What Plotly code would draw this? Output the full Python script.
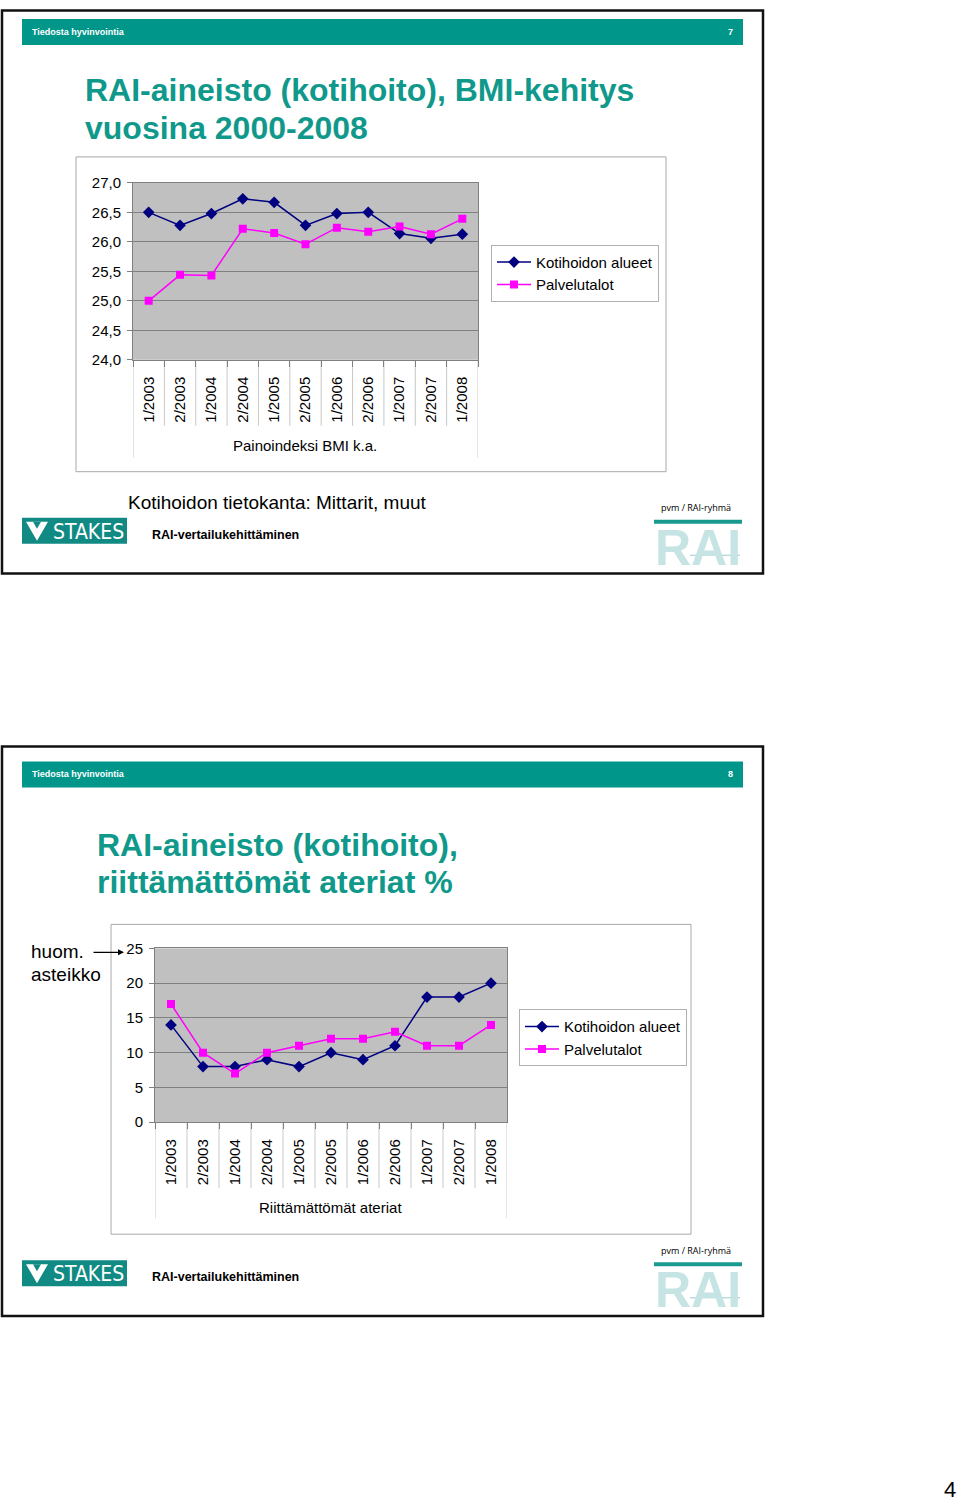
import plotly.graph_objects as go

W, H = 960, 1501
# the page is photographed with an 8 px top offset and ~0.989 vertical scale;
# vertical layout positions below are reference pixels mapped through py()
Y_OFF, Y_SPAN = 8, 1485

categories = ["1/2003", "2/2003", "1/2004", "2/2004", "1/2005", "2/2005",
              "1/2006", "2/2006", "1/2007", "2/2007", "1/2008"]
series_names = ["Kotihoidon alueet", "Palvelutalot"]
bmi_kotihoito = [26.50, 26.28, 26.48, 26.73, 26.67, 26.28, 26.48, 26.50, 26.14, 26.06, 26.13]
bmi_palvelutalot = [25.00, 25.44, 25.43, 26.22, 26.15, 25.96, 26.24, 26.17, 26.26, 26.13, 26.39]
meals_kotihoito = [14, 8, 8, 9, 8, 10, 9, 11, 18, 18, 20]
meals_palvelutalot = [17, 10, 7, 10, 11, 12, 12, 13, 11, 11, 14]

NAVY = "#000080"
MAGENTA = "#FF00FF"
TEAL = "#00968A"
TITLE_TEAL = "#10998B"
FONT = "Liberation Sans, Arial, sans-serif"


def px(x):
    return x / W


def py(y):
    return 1 - (y - Y_OFF) / Y_SPAN


fig = go.Figure()


def add_series(k_vals, p_vals, xa, ya, legend):
    fig.add_trace(go.Scatter(
        x=categories, y=k_vals, name=series_names[0], mode="lines+markers",
        line=dict(color=NAVY, width=1.5),
        marker=dict(symbol="diamond", size=9, color=NAVY),
        xaxis=xa, yaxis=ya, legend=legend))
    fig.add_trace(go.Scatter(
        x=categories, y=p_vals, name=series_names[1], mode="lines+markers",
        line=dict(color=MAGENTA, width=1.5),
        marker=dict(symbol="square", size=8, color=MAGENTA),
        xaxis=xa, yaxis=ya, legend=legend))


add_series(bmi_kotihoito, bmi_palvelutalot, "x", "y", "legend")
add_series(meals_kotihoito, meals_palvelutalot, "x2", "y2", "legend2")

xcommon = dict(type="category", categoryorder="array", categoryarray=categories,
               range=[-0.5, len(categories) - 0.5], tickangle=-90,
               tickfont=dict(size=15, color="black", family=FONT),
               showgrid=False, showline=True, linecolor="#808080", linewidth=1,
               mirror=True, ticks="outside", ticklen=6, tickcolor="#808080",
               tickson="boundaries", ticklabelstandoff=10, fixedrange=True)
ycommon = dict(tickfont=dict(size=15, color="black", family=FONT),
               showgrid=True, gridcolor="#808080", gridwidth=1,
               showline=True, linecolor="#808080", linewidth=1, mirror=True,
               ticks="outside", ticklen=5, tickcolor="#808080",
               ticklabelstandoff=3, zeroline=False, fixedrange=True)

legend_common = dict(xanchor="left", yanchor="top", bgcolor="white",
                     bordercolor="#B0B0B0", borderwidth=1,
                     font=dict(size=15, family=FONT, color="black"),
                     itemwidth=34, tracegroupgap=0)

fig.update_layout(
    width=W, height=H, autosize=False, margin=dict(l=0, r=0, t=0, b=0),
    paper_bgcolor="white", plot_bgcolor="#C0C0C0",
    separators=", ",
    font=dict(family=FONT, color="black"),
    xaxis=dict(domain=[px(133), px(478)], anchor="y", **xcommon),
    yaxis=dict(domain=[py(359), py(182)], anchor="x", range=[24, 27],
               tick0=24, dtick=0.5, tickformat=".1f", **ycommon),
    xaxis2=dict(domain=[px(155), px(507)], anchor="y2", **xcommon),
    yaxis2=dict(domain=[py(1122), py(948)], anchor="x2", range=[0, 25],
                tick0=0, dtick=5, **ycommon),
    legend=dict(x=px(491), y=py(244), **legend_common),
    legend2=dict(x=px(519), y=py(1009), **legend_common),
    showlegend=True,
)

shapes = []
annotations = []


def rect(x0, y0, x1, y1, line=None, fill=None, width=1, layer="below"):
    shapes.append(dict(type="rect", xref="paper", yref="paper",
                       x0=px(x0), x1=px(x1), y0=py(y0), y1=py(y1),
                       line=dict(color=line or "rgba(0,0,0,0)", width=width if line else 0),
                       fillcolor=fill or "rgba(0,0,0,0)", layer=layer))


def text(x, y, s, size, color="black", bold=False, xanchor="left", family=FONT):
    annotations.append(dict(xref="paper", yref="paper", x=px(x), y=py(y),
                            text=f"<b>{s}</b>" if bold else s, showarrow=False,
                            xanchor=xanchor, yanchor="middle",
                            font=dict(size=size, color=color, family=family)))


def slide(top, number, title_lines, title_ys, title_x, chart_box, sep_axis, sep_y,
          axis_title, axis_title_x, axis_title_y, footer_text):
    # slide border
    rect(2, max(top, Y_OFF + 1.5), 763, top + 570, line="#111111", width=2.5)
    # header bar
    rect(22, top + 15, 743, top + 41, fill=TEAL)
    text(30, top + 28, "Tiedosta hyvinvointia", 9, "white", bold=True)
    text(735, top + 28, str(number), 9, "white", bold=True, xanchor="right")
    # title
    for line_txt, ty in zip(title_lines, title_ys):
        text(title_x, ty, line_txt, 32, TITLE_TEAL, bold=True)
    # chart box
    rect(*chart_box, line="#A8A8A8", width=1)
    # category separators in label area (outer ones reach below the axis title)
    n = len(categories)
    for i in range(n + 1):
        y_end = sep_y[2] if i in (0, n) else sep_y[1]
        shapes.append(dict(type="line", xref=sep_axis, yref="paper",
                           x0=i - 0.5, x1=i - 0.5, y0=py(sep_y[0]), y1=py(y_end),
                           line=dict(color="#C8C8C8", width=1), layer="below"))
    text(axis_title_x, axis_title_y, axis_title, 15, xanchor="center")
    # footer
    if footer_text:
        text(126, top + 499, footer_text, 19)
    # STAKES logo
    rect(22, top + 514, 127, top + 540, fill="#118A84")
    shapes.append(dict(type="path", xref="paper", yref="paper",
                       path=(f"M {px(26)} {py(top + 518)} L {px(48)} {py(top + 518)} "
                             f"L {px(37)} {py(top + 537)} Z"),
                       fillcolor="white", line=dict(width=0)))
    shapes.append(dict(type="path", xref="paper", yref="paper",
                       path=(f"M {px(33)} {py(top + 518)} L {px(41)} {py(top + 518)} "
                             f"L {px(37)} {py(top + 525)} Z"),
                       fillcolor="#118A84", line=dict(width=0)))
    text(51, top + 528, "STAKES", 21, "white", family="DejaVu Sans Condensed, sans-serif")
    text(150, top + 531, "RAI-vertailukehittäminen", 12.5, bold=True)
    # RAI logo
    text(696, top + 504, "pvm / RAI-ryhmä", 9, xanchor="center", family="Open Sans, sans-serif")
    rect(654, top + 516, 742, top + 520, fill="#1A9A8E")
    text(698, top + 544, "RAI", 50, "#C7E4E4", bold=True, xanchor="center")
    rect(690, top + 551, 740, top + 552, fill="#9CCBCB")


slide(3, 7, ["RAI-aineisto (kotihoito), BMI-kehitys", "vuosina 2000-2008"], [89, 127], 83,
      (76, 156, 666, 471), "x", (359, 425, 457), "Painoindeksi BMI k.a.", 305, 445,
      "Kotihoidon tietokanta: Mittarit, muut")
slide(746, 8, ["RAI-aineisto (kotihoito),", "riittämättömät ateriat %"], [845, 882], 95,
      (111, 924, 691, 1234), "x2", (1122, 1188, 1218), "Riittämättömät ateriat", 330, 1207,
      None)

# note with arrow
text(29, 951, "huom.", 19)
text(29, 974, "asteikko", 19)
annotations.append(dict(xref="paper", yref="paper", x=px(124), y=py(952),
                        ax=-32, ay=0, axref="pixel", ayref="pixel", text="",
                        showarrow=True, arrowhead=2, arrowsize=1, arrowwidth=1.2,
                        arrowcolor="black"))

# page number
text(950, 1489, "4", 22, xanchor="center")

fig.update_layout(shapes=shapes, annotations=annotations)

post = ("document.body.style.margin='0';document.body.style.padding='0';"
        "document.documentElement.style.overflow='hidden';"
        "var gd=document.getElementById('{plot_id}');"
        "gd.style.position='fixed';gd.style.top='0px';gd.style.left='0px';"
        "gd.style.width='960px';gd.style.height='1501px';")
fig.write_html("out.html", post_script=post,
               config={"responsive": False, "displayModeBar": False, "staticPlot": True})
